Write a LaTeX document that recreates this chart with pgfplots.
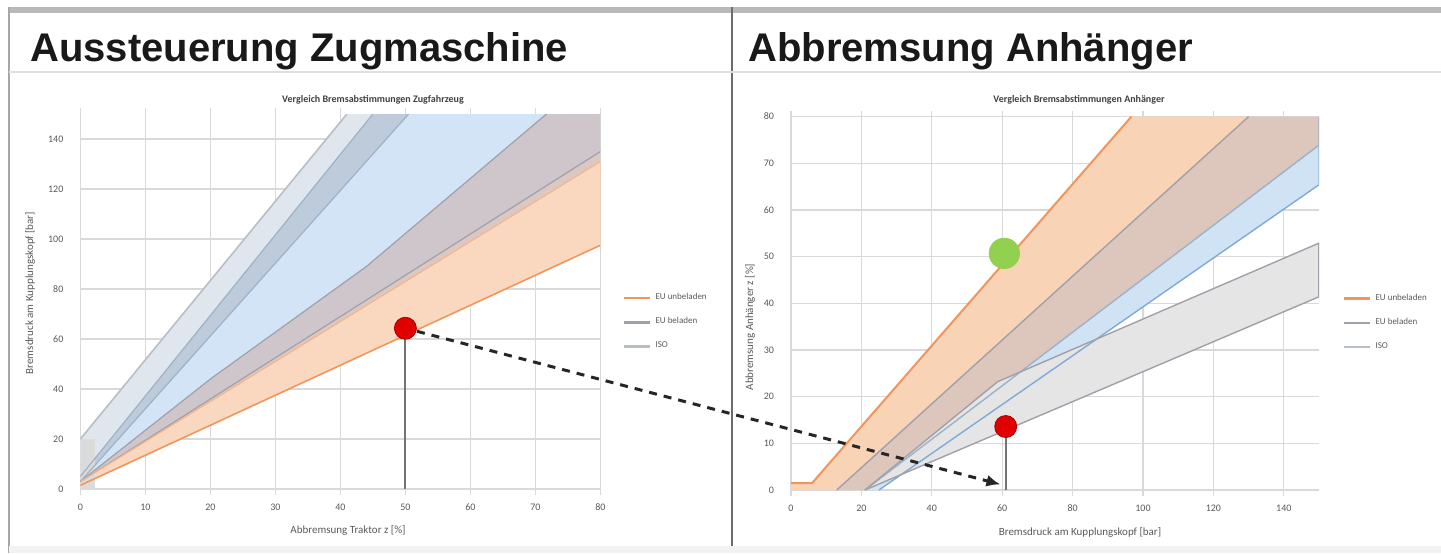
\documentclass[border=0pt]{standalone}
\usepackage{fontspec}
\setmainfont{Carlito}
\newfontfamily\headfont{Liberation Sans}
\usepackage{pgfplots}
\pgfplotsset{compat=1.18}
\usetikzlibrary{arrows.meta}
\definecolor{gridc}{HTML}{D9D9D9}
\definecolor{tickc}{HTML}{595959}
\definecolor{cLight}{HTML}{DFE6EE}
\definecolor{cDark}{HTML}{BDCBDA}
\definecolor{cBlue}{HTML}{D2E4F6}
\definecolor{cGray}{HTML}{CEC6CB}
\definecolor{cMix}{HTML}{DCC8C3}
\definecolor{cOr}{HTML}{FAD8C0}
\definecolor{lOr}{HTML}{F0955C}
\definecolor{lGray}{HTML}{A0A0AA}
\definecolor{lBlue}{HTML}{9DB2C8}
\definecolor{lLight}{HTML}{B8BEC6}
\definecolor{rOr}{HTML}{F9D3B6}
\definecolor{rMix}{HTML}{DDC6BC}
\definecolor{rBlue}{HTML}{D0E3F5}
\definecolor{rGray}{HTML}{E5E5E5}
\definecolor{lBlue2}{HTML}{7FA9D8}
\definecolor{dotR}{HTML}{E00000}
\definecolor{dotG}{HTML}{92D050}
\pgfplotsset{excel/.style={scale only axis, axis line style={draw=none},
  ytick style={draw=none}, xtick style={color=gridc, line width=0.6pt}, tick align=outside, major tick length=3pt,
  grid=major, major grid style={color=gridc, line width=0.6pt},
  tick label style={font=\fontsize{5}{6}\selectfont, text=tickc},
  /pgf/number format/assume math mode=true,
  yticklabel style={xshift=-2pt}, xticklabel style={yshift=-1pt},
  legend style={draw=none, fill=none, font=\fontsize{4.5}{5}\selectfont, text=tickc,
    row sep=3.5pt, inner sep=0pt, /tikz/every even column/.append style={column sep=2pt}},
  legend cell align=left,
  legend image code/.code={\draw[##1] (0pt,0pt) -- (13pt,0pt);}}}
\begin{document}
\begin{tikzpicture}
\begin{scope}[x=0.5pt,y=-0.5pt]
\path[use as bounding box] (0,0) rectangle (1441,553);
\fill[gray!55] (8,7) rectangle (1441,13);
\draw[gray!70, line width=1pt] (8.5,7) -- (8.5,553);
\draw[gray!85!black, line width=1pt] (732,7) -- (732,553);
\draw[gray!25, line width=1pt] (9,72) -- (1441,72);
\fill[gray!10] (9,546) rectangle (1441,553);
\node[anchor=base west, inner sep=0, text=black!90, font=\headfont\bfseries\fontsize{20}{22}\selectfont] at (30,61) {Aussteuerung Zugmaschine};
\node[anchor=base west, inner sep=0, text=black!90, font=\headfont\bfseries\fontsize{20}{22}\selectfont] at (748,61) {Abbremsung Anhänger};
\end{scope}
% ---------------- left axis
\begin{axis}[excel, at={(40.2pt,-244.5pt)}, anchor=south west, width=260pt, height=187.5pt,
  xmin=0, xmax=80, ymin=0, ymax=150, xtick={0,10,...,80}, ytick={0,20,...,140},
  legend style={at={(1.043,0.445)}, anchor=west}]
\addlegendimage{line width=1.2pt, color=lOr}\addlegendentry{EU unbeladen}
\addlegendimage{line width=1.2pt, color=lGray}\addlegendentry{EU beladen}
\addlegendimage{line width=1.2pt, color=lLight}\addlegendentry{ISO}
\addplot[fill=cLight, draw=none, forget plot] coordinates {(0,20) (41,150) (45,150) (0,5)} -- cycle;
\addplot[fill=cDark, draw=none, forget plot] coordinates {(0,5) (45,150) (50.5,150) (0,3)} -- cycle;
\addplot[fill=cBlue, draw=none, forget plot] coordinates {(0,3) (50.5,150) (71.7,150) (44,89) (20,44) (0,3)} -- cycle;
\addplot[fill=cGray, draw=none, forget plot] coordinates {(0,3) (20,44) (44,89) (71.7,150) (80,150) (80,135) (0,3)} -- cycle;
\addplot[fill=cMix, draw=none, forget plot] coordinates {(0,3) (80,135) (80,131) (0,3)} -- cycle;
\addplot[fill=cOr, draw=none, forget plot] coordinates {(0,3) (80,131) (80,97.5) (0,1.5)} -- cycle;
\addplot[fill=gray!28, draw=none, forget plot] coordinates {(0,0) (0,20) (2.2,20) (2.2,0)} -- cycle;
\addplot[lLight, line width=0.8pt, forget plot] coordinates {(0,20) (41,150)};
\addplot[lBlue, line width=0.6pt, forget plot] coordinates {(0,5) (45,150)};
\addplot[lBlue, line width=0.6pt, forget plot] coordinates {(0,3) (50.5,150)};
\addplot[lGray, line width=0.6pt, forget plot] coordinates {(0,3) (20,44) (44,89) (71.7,150)};
\addplot[lGray, line width=0.6pt, forget plot] coordinates {(0,3) (80,135)};
\addplot[lOr!70, line width=0.6pt, forget plot] coordinates {(0,3) (80,131)};
\addplot[lOr, line width=0.8pt, forget plot] coordinates {(0,1.5) (80,97.5)};
\addplot[lOr!60, line width=0.6pt, forget plot] coordinates {(80,97.5) (80,131)};
\addplot[black!55, line width=1pt, forget plot] coordinates {(50,0) (50,64.3)};
\addplot[only marks, color=dotR, mark=*, mark size=5.5pt, mark options={fill=dotR, draw=red!65!black}, forget plot] coordinates {(50,64.3)};
\coordinate (redL) at (axis cs:50,64.3);
\end{axis}
% ---------------- right axis
\begin{axis}[excel, at={(395.5pt,-245pt)}, anchor=south west, width=264pt, height=186.7pt,
  xmin=0, xmax=150, ymin=0, ymax=80, xtick={0,20,...,140}, ytick={0,10,...,80},
  legend style={at={(1.045,0.448)}, anchor=west}]
\addlegendimage{line width=1.2pt, color=lOr}\addlegendentry{EU unbeladen}
\addlegendimage{line width=1.2pt, color=lGray}\addlegendentry{EU beladen}
\addlegendimage{line width=1.2pt, color=lLight}\addlegendentry{ISO}
\addplot[fill=rOr, draw=none, forget plot] coordinates {(0,0) (0,1.5) (6,1.5) (96.7,80) (130,80) (13,0)} -- cycle;
\addplot[fill=rMix, draw=none, forget plot] coordinates {(13,0) (130,80) (150,80) (150,73.9) (21,0)} -- cycle;
\addplot[fill=rBlue, draw=none, forget plot] coordinates {(21,0) (150,73.9) (150,65.4) (25,0)} -- cycle;
\addplot[fill=rGray, draw=none, forget plot] coordinates {(21,0) (58.7,23.2) (150,52.9) (150,41.4)} -- cycle;
\addplot[lOr, line width=1pt, forget plot] coordinates {(0,1.5) (6,1.5) (96.7,80)};
\addplot[lGray, line width=0.7pt, forget plot] coordinates {(13,0) (130,80)};
\addplot[lBlue, line width=0.7pt, forget plot] coordinates {(21,0) (150,73.9)};
\addplot[lBlue2, line width=0.7pt, forget plot] coordinates {(25,0) (150,65.4)};
\addplot[lGray, line width=0.7pt, forget plot] coordinates {(21,0) (58.7,23.2) (150,52.9)};
\addplot[lGray, line width=0.7pt, forget plot] coordinates {(21,0) (150,41.4)};
\addplot[lGray, line width=0.7pt, forget plot] coordinates {(150,41.4) (150,52.9)};
\addplot[lBlue2!70, line width=0.7pt, forget plot] coordinates {(150,65.4) (150,73.9)};
\addplot[lGray!80, line width=0.7pt, forget plot] coordinates {(150,73.9) (150,80)};
\addplot[black!55, line width=1pt, forget plot] coordinates {(61,0) (61,13.6)};
\addplot[only marks, color=dotR, mark=*, mark size=5.5pt, mark options={fill=dotR, draw=red!65!black}, forget plot] coordinates {(61,13.6)};
\addplot[only marks, color=dotG, mark=*, mark size=7.6pt, mark options={fill=dotG, draw=dotG}, forget plot] coordinates {(60.6,50.7)};
\coordinate (arrR) at (axis cs:59.5,1.2);
\end{axis}
\draw[line width=1.5pt, black!85, dash pattern=on 4pt off 3.5pt, -{Latex[length=7pt,width=6pt]}, shorten <=6pt] (redL) -- (arrR);
% titles and labels
\begin{scope}[x=0.5pt,y=-0.5pt]
\node[font=\bfseries\fontsize{5}{6}\selectfont, text=black!75] at (373,100) {Vergleich Bremsabstimmungen Zugfahrzeug};
\node[font=\bfseries\fontsize{5}{6}\selectfont, text=black!75] at (1079,100) {Vergleich Bremsabstimmungen Anhänger};
\node[font=\fontsize{5.5}{6}\selectfont, text=tickc] at (348,530) {Abbremsung Traktor z [\%]};
\node[font=\fontsize{5.5}{6}\selectfont, text=tickc] at (1080,532) {Bremsdruck am Kupplungskopf [bar]};
\node[font=\fontsize{5.5}{6}\selectfont, text=tickc, rotate=90] at (30,293) {Bremsdruck am Kupplungskopf [bar]};
\node[font=\fontsize{5.5}{6}\selectfont, text=tickc, rotate=90] at (750,327) {Abbremsung Anhänger z [\%]};
\end{scope}
\end{tikzpicture}
\end{document}
